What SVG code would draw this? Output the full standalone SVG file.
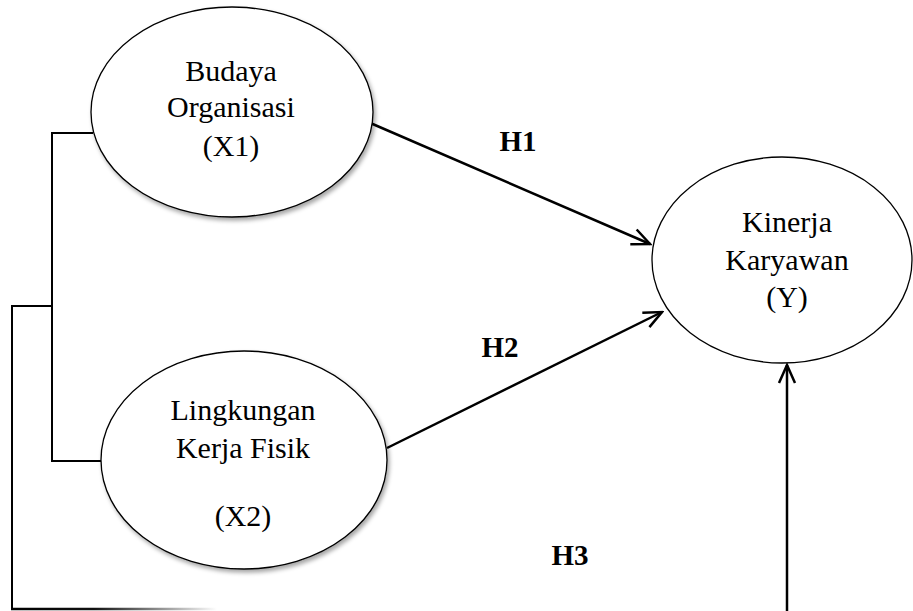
<svg xmlns="http://www.w3.org/2000/svg" width="913" height="611" viewBox="0 0 913 611">
<style>
.node{fill:#fff;stroke:#000;stroke-width:1.3}
.lbl{font-family:"Liberation Serif","Times New Roman",serif;font-size:30px;fill:#000;text-anchor:middle}
.hyp{font-family:"Liberation Serif","Times New Roman",serif;font-size:29px;font-weight:bold;fill:#000;text-anchor:middle}
.wire{fill:none;stroke:#000;stroke-width:2}
.arr{fill:none;stroke:#000;stroke-width:2.5;marker-end:url(#head)}
</style>
<defs>
<marker id="head" markerUnits="userSpaceOnUse" viewBox="0 0 22 22" markerWidth="22" markerHeight="22" refX="20" refY="11" orient="auto">
<path d="M2,3 L20,11 L2,19" fill="none" stroke="#000" stroke-width="2.5"/>
</marker>
<filter id="shadow" x="-10%" y="-10%" width="125%" height="125%">
<feDropShadow dx="2" dy="3" stdDeviation="2" flood-color="#000" flood-opacity="0.35"/>
</filter>
<linearGradient id="fade" x1="12" y1="0" x2="217" y2="0" gradientUnits="userSpaceOnUse">
<stop offset="0" stop-color="#000"/>
<stop offset="0.4" stop-color="#111"/>
<stop offset="1" stop-color="#fff"/>
</linearGradient>
</defs>
<g id="connectors">
<polyline class="wire" points="93,133 52,133 52,461 101,461"/>
<polyline class="wire" points="52,306 12,306 12,609"/>
<line x1="11" y1="609" x2="217" y2="609" stroke="url(#fade)" stroke-width="2.5"/>
<line class="arr" x1="368" y1="122" x2="650" y2="244"/>
<line class="arr" x1="387" y1="448" x2="662" y2="312"/>
<line class="arr" x1="787" y1="611" x2="787" y2="365"/>
</g>
<g id="X1">
<ellipse class="node" cx="232" cy="112" rx="141" ry="105" filter="url(#shadow)"/>
<text class="lbl" x="231" y="81">Budaya</text>
<text class="lbl" x="231" y="117">Organisasi</text>
<text class="lbl" x="231" y="156">(X1)</text>
</g>
<g id="X2">
<ellipse class="node" cx="244" cy="460" rx="143" ry="109" filter="url(#shadow)"/>
<text class="lbl" x="243" y="420">Lingkungan</text>
<text class="lbl" x="243" y="458">Kerja Fisik</text>
<text class="lbl" x="243" y="526">(X2)</text>
</g>
<g id="Y">
<ellipse class="node" cx="782" cy="260" rx="130" ry="103"/>
<text class="lbl" x="787" y="232">Kinerja</text>
<text class="lbl" x="787" y="270">Karyawan</text>
<text class="lbl" x="787" y="307">(Y)</text>
</g>
<g id="labels">
<text class="hyp" x="518" y="151">H1</text>
<text class="hyp" x="500" y="357">H2</text>
<text class="hyp" x="570" y="565">H3</text>
</g>
</svg>
